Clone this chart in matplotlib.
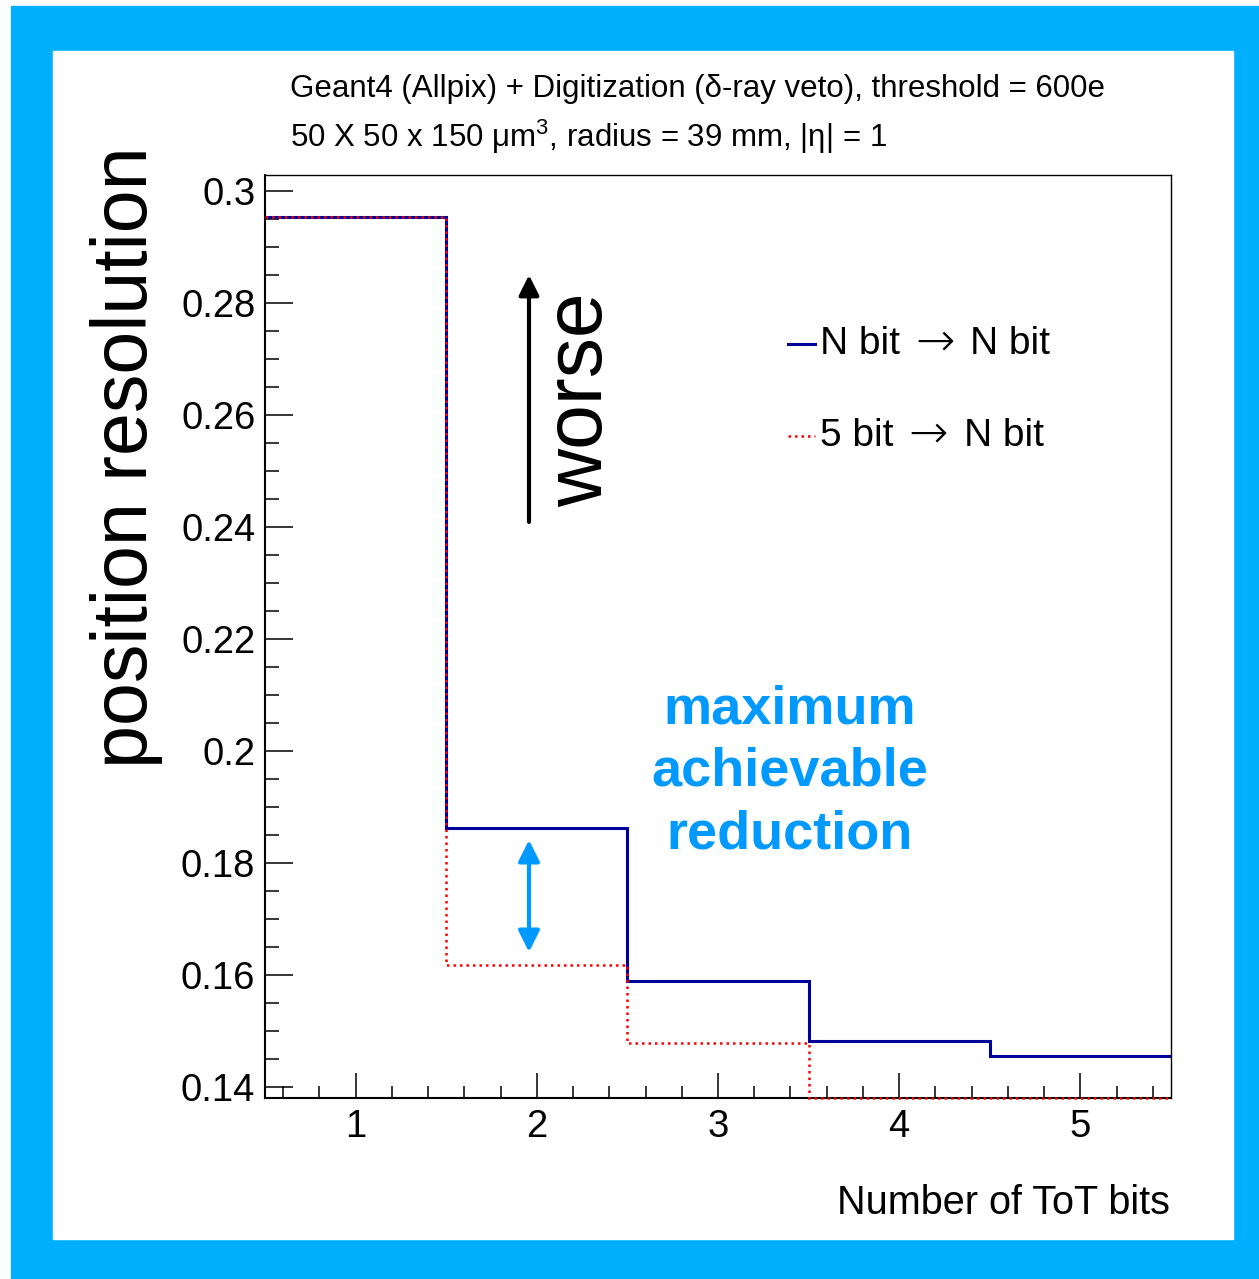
#!/usr/bin/env python

# resolution.py - position resolution versus number of ToT bits, N bit and 5 bit digitization

# configure
OUTPUT = 'out.png'
BORDER = '#00b0ff'
ACCENT = '#0099ff'
NAVY   = '#00009a'

# require
import matplotlib
matplotlib.use( 'Agg' )
import matplotlib.pyplot   as plt
from matplotlib.lines      import Line2D
from matplotlib.patches    import Rectangle, FancyArrowPatch
from matplotlib.ticker     import MultipleLocator, FuncFormatter

plt.rcParams[ 'font.family' ]      = [ 'Liberation Sans', 'DejaVu Sans' ]
plt.rcParams[ 'mathtext.fontset' ] = 'custom'
plt.rcParams[ 'mathtext.rm' ]      = 'Liberation Sans'

# data
bits       = [ 1, 2, 3, 4, 5 ]
edges      = [ 0.5, 1.5, 2.5, 3.5, 4.5, 5.5 ]
nbitToNbit = [ 0.2954, 0.1863, 0.1589, 0.1482, 0.1455 ]
fiveToNbit = [ 0.2954, 0.1618, 0.1479, 0.1380, 0.1380 ]
sources    = [ 'N bit', '5 bit' ]
target     = 'N bit'
titles     = [ 'Geant4 (Allpix) + Digitization (\u03b4-ray veto), threshold = 600e',
               '50 X 50 x 150 \u03bcm$^{3}$, radius = 39 mm, |\u03b7| = 1' ]

W, H = 1259, 1279
def fx( x ) : return x / W
def fy( y ) : return 1 - y / H

# canvas with the coloured frame
figure = plt.figure( figsize=( W / 100, H / 100 ), dpi=100 )
figure.patch.set_facecolor( 'white' )
figure.add_artist( Rectangle( ( fx( 11 ), 0 ), 1, fy( 6 ), transform=figure.transFigure, color=BORDER, zorder=-10 ) )
figure.add_artist( Rectangle( ( fx( 53 ), fy( 1239 ) ), fx( 1233 - 53 ), fy( 51 ) - fy( 1239 ), transform=figure.transFigure, color='white', zorder=-9 ) )

ax = figure.add_axes( [ fx( 265 ), fy( 1098 ), fx( 1171 - 265 ), fy( 175 ) - fy( 1098 ) ] )
ax.set_facecolor( 'white' )

# the two histograms
nbit = ax.stairs( nbitToNbit, edges, baseline=None, color=NAVY, linewidth=2.2, zorder=3 )
five = ax.stairs( fiveToNbit, edges, baseline=None, color='red', linewidth=1.8, linestyle=( 0, ( 1, 1.6 ) ), zorder=4, clip_on=False )

ax.set_xlim( 0.5, 5.5 )
ax.set_ylim( 0.13804, 0.30286 )

# axes and ticks
ax.xaxis.set_major_locator( MultipleLocator( 1 ) )
ax.xaxis.set_minor_locator( MultipleLocator( 0.2 ) )
ax.yaxis.set_major_locator( MultipleLocator( 0.02 ) )
ax.yaxis.set_minor_locator( MultipleLocator( 0.005 ) )
ax.yaxis.set_major_formatter( FuncFormatter( lambda v, p : '{:g}'.format( round( v, 4 ) ) ) )
ax.tick_params( axis='both', which='both', direction='in', top=False, right=False, width=1.1, labelsize=27.5 )
ax.tick_params( axis='y', which='major', length=20, pad=7 )
ax.tick_params( axis='y', which='minor', length=10 )
ax.tick_params( axis='x', which='major', length=18, pad=8 )
ax.tick_params( axis='x', which='minor', length=9 )
ax.spines[ 'left' ].set_linewidth( 1.5 )
ax.spines[ 'bottom' ].set_linewidth( 1.5 )
ax.spines[ 'top' ].set_linewidth( 1.0 )
ax.spines[ 'right' ].set_linewidth( 1.0 )

# labels and titles
figure.text( fx( 1170 ), fy( 1203 ), 'Number of ToT bits', ha='right', va='center', fontsize=28.5 )
figure.text( fx( 127 ), fy( 457 ), 'position resolution', rotation=90, ha='center', va='center', fontsize=55.5 )
figure.text( fx( 290 ), fy( 89 ), titles[ 0 ], ha='left', va='center', fontsize=22.5 )
figure.text( fx( 290 ), fy( 137 ), titles[ 1 ], ha='left', va='center', fontsize=22.5 )

# legend drawn by hand: source, arrow, target
for row, ( source, artist ) in enumerate( zip( sources, [ nbit, five ] ) ) :
	y = fy( 344 + 92 * row )
	figure.add_artist( Line2D( [ fx( 788 ), fx( 815 ) ], [ y, y ], transform=figure.transFigure,
	                           color=artist.get_edgecolor(), linewidth=artist.get_linewidth(), linestyle=artist.get_linestyle() ) )
	left  = figure.text( fx( 820 ), y, source, ha='left', va='center', fontsize=28 )
	arrow = ax.annotate( '\u2192', xy=( 1, 0.5 ), xycoords=left, xytext=( 11, 1 ), textcoords='offset points',
	                     ha='left', va='center', fontsize=34, family='DejaVu Sans', fontweight='light', annotation_clip=False )
	ax.annotate( target, xy=( 1, 0.5 ), xycoords=arrow, xytext=( 11, -1 ), textcoords='offset points',
	             ha='left', va='center', fontsize=28, annotation_clip=False )

# worse arrow
figure.add_artist( FancyArrowPatch( ( fx( 529 ), fy( 522 ) ), ( fx( 529 ), fy( 275 ) ), transform=figure.transFigure,
                                    arrowstyle='-|>', mutation_scale=30, linewidth=3, color='black', shrinkA=0, shrinkB=0 ) )
figure.text( fx( 581 ), fy( 400 ), 'worse', rotation=90, ha='center', va='center', fontsize=58 )

# maximum achievable reduction
figure.add_artist( FancyArrowPatch( ( fx( 529 ), fy( 840 ) ), ( fx( 529 ), fy( 952 ) ), transform=figure.transFigure,
                                    arrowstyle='<|-|>', mutation_scale=32, linewidth=3, color=ACCENT, shrinkA=0, shrinkB=0 ) )
figure.text( fx( 790 ), fy( 772 ), 'maximum\nachievable\nreduction', ha='center', va='center',
             fontsize=39, fontweight='bold', color=ACCENT, linespacing=1.32 )

# done
plt.savefig( OUTPUT, dpi=100 )
